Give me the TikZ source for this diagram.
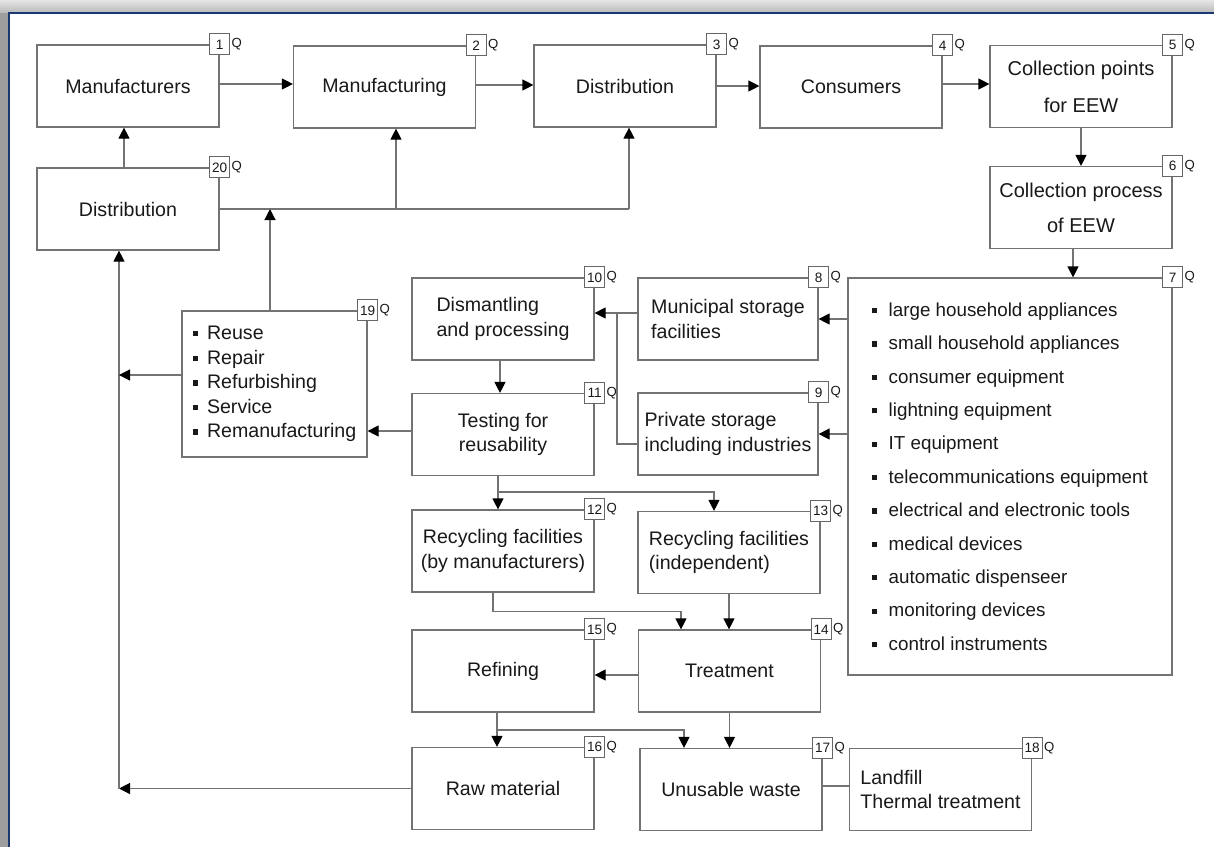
\documentclass[tikz,border=0pt]{standalone}
\usepackage{fontspec}
\setmainfont{Liberation Sans}
\usetikzlibrary{arrows.meta,positioning}

\definecolor{frameblue}{RGB}{28,56,112}
\newcommand{\sqitem}[1][0.6em]{\rule[0.3ex]{0.28em}{0.28em}\hspace{#1}}

\begin{document}
\begin{tikzpicture}[
    x=0.5pt, y=-0.5pt,
    every node/.style={font=\fontsize{9.8}{12.3}\selectfont, text=black!90},
    stage/.style={
        draw=black!55,
        line width=0.6pt,
        fill=white,
        align=center,
        minimum width=91pt,
        minimum height=41pt,
        inner sep=2pt
    },
    badge/.style={
        draw=black!60,
        line width=0.5pt,
        fill=white,
        inner sep=0pt,
        minimum width=10pt,
        minimum height=10.5pt,
        font=\fontsize{6.8}{7}\selectfont
    },
    qlabel/.style={inner sep=0.6pt, font=\fontsize{6.6}{7}\selectfont},
    link/.style={draw=black!55, line width=0.6pt},
    arr/.style={link, -{Triangle[length=5.5pt, width=5.5pt, color=black]}}
]

    % Frame
    \useasboundingbox (0,0) rectangle (1214,847);
    \shade[top color=black!10, bottom color=black!28] (0,0) rectangle (1214,13);
    \fill[black!38] (0,13) rectangle (9,847);
    \draw[frameblue, line width=1.2pt] (9,847) -- (9,13) -- (1214,13);

    % Top row
    \node[stage] (mfrs) at (128,86) {Manufacturers};
    \node[stage] (mfg) at (384.5,87) {Manufacturing};
    \node[stage] (distr) at (625,86) {Distribution};
    \node[stage] (cons) at (851,87) {Consumers};
    \node[stage, font=\fontsize{10}{18.5}\selectfont] (collpts) at (1081,86.5) {Collection points\\for EEW};
    \node[stage, font=\fontsize{10}{17.5}\selectfont] (collproc) at (1081,207.5) {Collection process\\of EEW};

    % Redistribution
    \node[stage] (redistr) at (128,209) {Distribution};

    % Equipment categories
    \node[
        stage,
        align=left,
        minimum width=162pt,
        minimum height=198.5pt,
        font=\fontsize{9.4}{16.7}\selectfont
    ] (cats) at (1010,476.5) {%
        \sqitem large household appliances\\
        \sqitem small household appliances\\
        \sqitem consumer equipment\\
        \sqitem lightning equipment\\
        \sqitem IT equipment\\
        \sqitem telecommunications equipment\\
        \sqitem electrical and electronic tools\\
        \sqitem medical devices\\
        \sqitem automatic dispenseer\\
        \sqitem monitoring devices\\
        \sqitem control instruments};

    % Storage
    \node[stage, align=left, minimum width=90pt] (munic) at (728,319) {Municipal storage\\facilities};
    \node[stage, align=left, minimum width=90pt] (priv) at (728,434) {Private storage\\including industries};

    % Processing
    \node[stage, align=left] (dism) at (503,319) {Dismantling\\and processing};
    \node[stage] (test) at (503,434.5) {Testing for\\reusability};
    \node[stage] (recman) at (503,551) {Recycling facilities\\(by manufacturers)};
    \node[stage, align=left] (recind) at (729,552.5) {Recycling facilities\\(independent)};
    \node[stage] (refin) at (503,671) {Refining};
    \node[stage] (treat) at (729.5,671) {Treatment};
    \node[stage] (raw) at (503,788.5) {Raw material};
    \node[stage] (waste) at (731,789.5) {Unusable waste};
    \node[stage, align=left] (landf) at (940.5,789.5) {Landfill\\Thermal treatment};

    % Reuse options
    \node[
        stage,
        align=left,
        minimum width=92.5pt,
        minimum height=73pt
    ] (reuse) at (274.5,384) {%
        \sqitem[0.45em]Reuse\\
        \sqitem[0.45em]Repair\\
        \sqitem[0.45em]Refurbishing\\
        \sqitem[0.45em]Service\\
        \sqitem[0.45em]Remanufacturing};

    % Badges
    \node[badge] (q1) at (mfrs.north east) {1};       \node[qlabel, right=0pt of q1] (ql1) {Q};
    \node[badge] (q2) at (mfg.north east) {2};        \node[qlabel, right=0pt of q2] (ql2) {Q};
    \node[badge] (q3) at (distr.north east) {3};      \node[qlabel, right=0pt of q3] (ql3) {Q};
    \node[badge] (q4) at (cons.north east) {4};       \node[qlabel, right=0pt of q4] (ql4) {Q};
    \node[badge] (q5) at (collpts.north east) {5};    \node[qlabel, right=0pt of q5] (ql5) {Q};
    \node[badge] (q6) at (collproc.north east) {6};   \node[qlabel, right=0pt of q6] (ql6) {Q};
    \node[badge] (q7) at (cats.north east) {7};       \node[qlabel, right=0pt of q7] (ql7) {Q};
    \node[badge] (q8) at (munic.north east) {8};      \node[qlabel, right=0pt of q8] (ql8) {Q};
    \node[badge] (q9) at (priv.north east) {9};       \node[qlabel, right=0pt of q9] (ql9) {Q};
    \node[badge] (q10) at (dism.north east) {10};     \node[qlabel, right=0pt of q10] (ql10) {Q};
    \node[badge] (q11) at (test.north east) {11};     \node[qlabel, right=0pt of q11] (ql11) {Q};
    \node[badge] (q12) at (recman.north east) {12};   \node[qlabel, right=0pt of q12] (ql12) {Q};
    \node[badge] (q13) at (recind.north east) {13};   \node[qlabel, right=0pt of q13] (ql13) {Q};
    \node[badge] (q14) at (treat.north east) {14};    \node[qlabel, right=0pt of q14] (ql14) {Q};
    \node[badge] (q15) at (refin.north east) {15};    \node[qlabel, right=0pt of q15] (ql15) {Q};
    \node[badge] (q16) at (raw.north east) {16};      \node[qlabel, right=0pt of q16] (ql16) {Q};
    \node[badge] (q17) at (waste.north east) {17};    \node[qlabel, right=0pt of q17] (ql17) {Q};
    \node[badge] (q18) at (landf.north east) {18};    \node[qlabel, right=0pt of q18] (ql18) {Q};
    \node[badge] (q19) at (reuse.north east) {19};    \node[qlabel, right=0pt of q19] (ql19) {Q};
    \node[badge] (q20) at (redistr.north east) {20};  \node[qlabel, right=0pt of q20] (ql20) {Q};

    % Junctions
    \coordinate (busR) at (629,209);
    \coordinate (busM) at (396,209);
    \coordinate (busA) at (270,209);
    \coordinate (busL) at (119,788.5);
    \coordinate (busS) at (617,313);
    \coordinate (splitA) at (498,492);
    \coordinate (splitB) at (497,730);

    % Arrows, top row
    \draw[arr] ([yshift=1pt]mfrs.east) -- ([yshift=1pt]mfrs.east -| mfg.west);
    \draw[arr] ([yshift=1pt]mfg.east) -- ([yshift=1pt]mfg.east -| distr.west);
    \draw[arr] (distr.east) -- (distr.east -| cons.west);
    \draw[arr] ([yshift=1.5pt]cons.east) -- ([yshift=1.5pt]cons.east -| collpts.west);
    \draw[arr] (collpts.south) -- (collproc.north);
    \draw[arr] ([xshift=-4pt]collproc.south) -- ([xshift=-4pt]collproc.south |- cats.north);

    % Arrows, redistribution
    \draw[arr] ([xshift=-2pt]redistr.north) -- ([xshift=-2pt]redistr.north |- mfrs.south);
    \draw[link] (redistr.east) -- (busR);
    \draw[arr] (busR) -- (busR |- distr.south);
    \draw[arr] (busM) -- (busM |- mfg.south);
    \draw[arr] (reuse.north -| busA) -- (busA);
    \draw[arr] (raw.west) -- (busL);
    \draw[arr] (busL) -- (busL |- redistr.south);
    \draw[arr] ([yshift=4.5pt]reuse.west) -- ([yshift=4.5pt]reuse.west -| busL);

    % Arrows, storage and processing
    \draw[arr] (cats.west |- munic.east) -- (munic.east);
    \draw[arr] (cats.west |- priv.east) -- (priv.east);
    \draw[arr] ([yshift=3pt]munic.west) -- ([yshift=3pt]munic.west -| dism.east);
    \draw[link] ([yshift=-5pt]priv.west) -| (busS);
    \draw[arr] ([xshift=-1.5pt]dism.south) -- ([xshift=-1.5pt]dism.south |- test.north);
    \draw[arr] ([yshift=1.75pt]test.west) -- ([yshift=1.75pt]test.west -| reuse.east);
    \draw[arr] (test.south -| splitA) -- (recman.north -| splitA);
    \draw[arr] (splitA) -| ([xshift=-7.5pt]recind.north);

    % Arrows, recycling
    \draw[arr] ([xshift=-5pt]recman.south) -- ++(0,19) -| ([xshift=-24.25pt]treat.north);
    \draw[arr] (recind.south) -- (recind.south |- treat.north);
    \draw[arr] ([yshift=-2pt]treat.west) -- ([yshift=-2pt]treat.west -| refin.east);
    \draw[arr] (refin.south -| splitB) -- (raw.north -| splitB);
    \draw[arr] (splitB) -| ([xshift=-23.5pt]waste.north);
    \draw[arr] (treat.south) -- (treat.south |- waste.north);
    \draw[link] ([yshift=1.75pt]waste.east) -- ([yshift=1.75pt]waste.east -| landf.west);

\end{tikzpicture}
\end{document}
